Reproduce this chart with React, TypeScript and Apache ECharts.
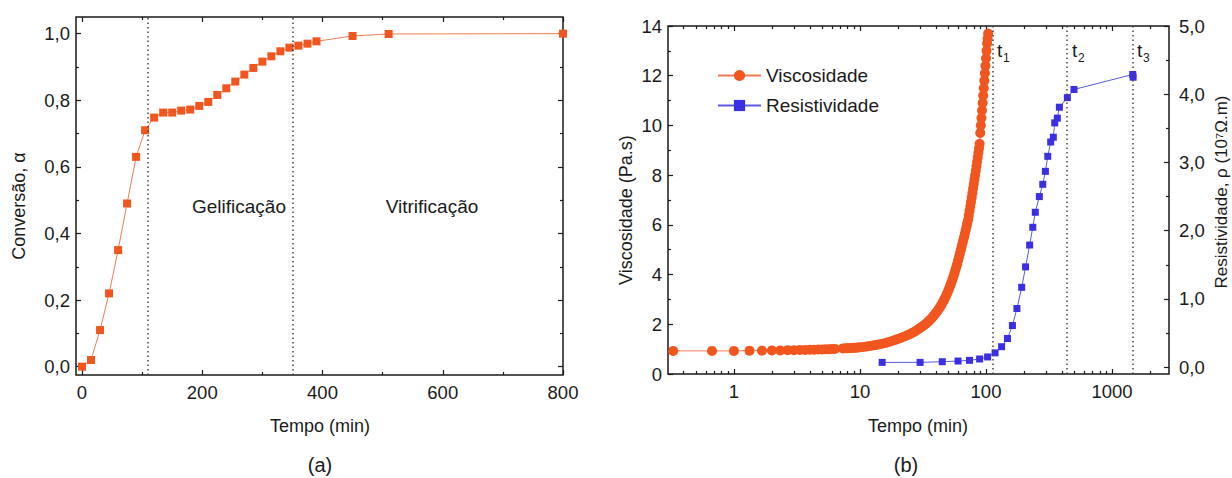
import React, { useEffect, useRef } from "react";
import * as echarts from "echarts";

// ---------- (a) Conversão ----------
const convTime = [0, 15, 30, 45, 60, 75, 90, 105, 120, 135, 150, 165, 180, 195, 210, 225, 240, 255, 270, 285, 300, 315, 330, 345, 360, 375, 390, 450, 510, 800];
const convValue = [0.0, 0.02, 0.11, 0.22, 0.35, 0.49, 0.63, 0.71, 0.748, 0.763, 0.763, 0.769, 0.772, 0.783, 0.795, 0.816, 0.836, 0.856, 0.877, 0.897, 0.916, 0.932, 0.947, 0.958, 0.964, 0.97, 0.977, 0.993, 0.999, 1.0];
const convMarks = [110, 350];
const convXMajor = [0, 200, 400, 600, 800];
const convXMinor = [100, 300, 500, 700];
const convYMajor = [0, 0.2, 0.4, 0.6, 0.8, 1.0];
const convYMinor = [0.1, 0.3, 0.5, 0.7, 0.9];

// ---------- (b) Viscosidade ----------
const visTime = [0.33, 0.67, 1, 1.33, 1.67, 2, 2.33, 2.67, 3, 3.33, 3.67, 4, 4.33, 4.67, 5, 5.33, 5.67, 6, 6.33,
  7.33, 7.67, 8, 8.33, 8.67, 9, 9.33, 9.67, 10, 10.67, 11.33, 12, 12.67, 13.33, 14, 15, 16, 17, 18, 19, 20,
  21, 22, 23, 24, 25, 26, 27, 28, 29, 30, 31, 32, 33, 34, 35, 36, 37, 38, 39, 40, 41, 42, 43, 44, 45, 46, 47, 48, 49, 50,
  51, 52, 53, 54, 55, 56, 57, 58, 59, 60, 61, 62, 63, 64, 65, 66, 67, 68, 69, 70, 71, 72, 73, 74, 75, 76, 77, 78, 79, 80,
  81, 82, 83, 84, 85, 86, 87, 88, 89, 90, 91, 92, 93, 94, 95, 96, 97, 98, 99, 100, 101, 102, 103, 104];
const visValue = [0.93, 0.93, 0.93, 0.94, 0.94, 0.95, 0.95, 0.96, 0.96, 0.97, 0.97, 0.98, 0.98, 0.99, 0.99, 1.0, 1.0, 1.01, 1.01,
  1.03, 1.04, 1.04, 1.05, 1.05, 1.06, 1.06, 1.07, 1.08, 1.09, 1.11, 1.13, 1.15, 1.17, 1.19, 1.22, 1.25, 1.29, 1.33, 1.37, 1.41,
  1.45, 1.49, 1.53, 1.57, 1.61, 1.66, 1.7, 1.75, 1.8, 1.85, 1.9, 1.95, 2.0, 2.06, 2.12, 2.18, 2.24, 2.31, 2.38, 2.45, 2.52, 2.6, 2.68, 2.76, 2.85, 2.94, 3.03, 3.13, 3.23, 3.33,
  3.44, 3.55, 3.66, 3.78, 3.9, 4.03, 4.16, 4.29, 4.42, 4.56, 4.7, 4.84, 4.98, 5.12, 5.25, 5.38, 5.51, 5.64, 5.78, 5.92, 6.06, 6.2, 6.38, 6.56, 6.74, 6.92, 7.1, 7.28, 7.46, 7.64,
  7.82, 8.0, 8.18, 8.36, 8.54, 8.72, 8.9, 9.08, 9.26, 9.7, 10.0, 10.3, 10.6, 10.9, 11.2, 11.5, 11.8, 12.1, 12.4, 12.7, 13.0, 13.3, 13.5, 13.7];

// ---------- (b) Resistividade ----------
const resTime = [15, 30, 45, 60, 74, 89, 103, 118, 133, 148, 162, 176, 192, 206, 222, 235, 246, 265, 282, 296, 309, 326, 342, 351, 368, 382, 442, 499, 1459, 1470];
const resValue = [0.07, 0.07, 0.08, 0.09, 0.1, 0.12, 0.15, 0.21, 0.3, 0.42, 0.61, 0.86, 1.17, 1.47, 1.79, 2.05, 2.27, 2.5, 2.68, 2.87, 3.09, 3.3, 3.37, 3.58, 3.65, 3.81, 3.95, 4.07, 4.29, 4.25];
const tMarks = [113, 440, 1470];
const tLabels = ["1", "2", "3"];

const logXMajor = [1, 10, 100, 1000];
const logXMinor = [0.4, 0.5, 0.6, 0.7, 0.8, 0.9, 2, 3, 4, 5, 6, 7, 8, 9, 20, 30, 40, 50, 60, 70, 80, 90, 200, 300, 400, 500, 600, 700, 800, 900, 2000];
const visYMajor = [0, 2, 4, 6, 8, 10, 12, 14];
const visYMinor = [1, 3, 5, 7, 9, 11, 13];
const resYMajor = [0, 1, 2, 3, 4, 5];
const resYMinor = [0.5, 1.5, 2.5, 3.5, 4.5];

const FONT = '"Liberation Sans", Arial, Helvetica, sans-serif';
const INK = "#1a1a1a";
const ORANGE = "#F2561F";
const ORANGE_LINE = "#EF7C55";
const BLUE = "#3B2FE3";
const BLUE_LINE = "#5A5AE0";
const FS_TICK = 18.5;
const FS_TITLE = 18;
const FS_IN = 19;

const comma = (v: number) => v.toFixed(1).replace(".", ",");

function axis(gridIndex: number, position: string, type: string, min: number, max: number, ticks: number[], len: number, label?: { fmt: (v: number) => string; margin: number }) {
  const a: any = {
    gridIndex,
    position,
    type,
    min,
    max,
    axisLine: { show: false, onZero: false },
    splitLine: { show: false },
    minorTick: { show: false },
    axisTick: { show: true, inside: true, length: len, customValues: ticks, lineStyle: { color: INK, width: 1.2 } },
    axisLabel: label
      ? { show: true, customValues: ticks, formatter: label.fmt, margin: label.margin, fontSize: FS_TICK, fontFamily: FONT, color: INK }
      : { show: false },
  };
  if (type === "log") a.logBase = 10;
  return a;
}

function txt(text: string, x: number, y: number, size = FS_TITLE, rotation = 0, align = "center") {
  return {
    type: "text",
    x,
    y,
    rotation,
    silent: true,
    style: { text, fontSize: size, fontFamily: FONT, fill: INK, align, verticalAlign: "middle" },
  };
}

export default function App() {
  const ref = useRef<HTMLDivElement>(null);
  useEffect(() => {
    document.body.style.margin = "0";
    const chart = echarts.init(ref.current!, null, { renderer: "svg" });
    const dotted = { type: [1.5, 3] as any, color: "#444", width: 1.5 };

    const graphic: any[] = [
      txt("Conversão, α", 19, 206, FS_TITLE, Math.PI / 2),
      txt("Tempo (min)", 320, 426),
      txt("(a)", 320, 465, 20),
      txt("Gelificação", 239, 206, FS_IN),
      txt("Vitrificação", 432, 206, FS_IN),
      txt("Viscosidade (Pa.s)", 626, 210, FS_TITLE, Math.PI / 2),
      txt("Tempo (min)", 918, 426),
      txt("(b)", 906, 465, 20),
      txt("Resistividade, ρ (10⁷Ω.m)", 1221, 192, 17, Math.PI / 2),
    ];
    const tX = [997, 1072, 1137];
    tLabels.forEach((s, i) => {
      graphic.push(txt("t", tX[i], 50, FS_IN, 0, "left"));
      graphic.push(txt(s, tX[i] + 6, 58, 12, 0, "left"));
    });

    const option: any = {
      animation: false,
      grid: [
        { left: 76, top: 17, width: 487, height: 358, show: true, borderColor: INK, borderWidth: 1.5, backgroundColor: "transparent" },
        { left: 668, top: 26, width: 501, height: 348, show: true, borderColor: INK, borderWidth: 1.5, backgroundColor: "transparent" },
      ],
      xAxis: [
        axis(0, "bottom", "value", -10, 800, convXMajor, 5, { fmt: (v) => String(v), margin: 8 }),
        axis(0, "bottom", "value", -10, 800, convXMinor, 3),
        axis(0, "top", "value", -10, 800, convXMajor, 5),
        axis(0, "top", "value", -10, 800, convXMinor, 3),
        axis(1, "bottom", "log", 0.3, 2830, logXMajor, 5, { fmt: (v) => String(Math.round(v)), margin: 8 }),
        axis(1, "bottom", "log", 0.3, 2830, logXMinor, 3),
        axis(1, "top", "log", 0.3, 2830, logXMajor, 5),
        axis(1, "top", "log", 0.3, 2830, logXMinor, 3),
      ],
      yAxis: [
        axis(0, "left", "value", -0.025, 1.05, convYMajor, 5, { fmt: comma, margin: 6 }),
        axis(0, "left", "value", -0.025, 1.05, convYMinor, 3),
        axis(0, "right", "value", -0.025, 1.05, convYMajor, 5),
        axis(0, "right", "value", -0.025, 1.05, convYMinor, 3),
        axis(1, "left", "value", 0, 14, visYMajor, 5, { fmt: (v) => String(v), margin: 6 }),
        axis(1, "left", "value", 0, 14, visYMinor, 3),
        axis(1, "right", "value", -0.1, 5.0, resYMajor, 5, { fmt: comma, margin: 10 }),
        axis(1, "right", "value", -0.1, 5.0, resYMinor, 3),
      ],
      legend: {
        data: ["Viscosidade", "Resistividade"],
        orient: "vertical",
        left: 717,
        top: 66,
        padding: 0,
        itemGap: 11,
        itemWidth: 43,
        itemHeight: 14,
        textStyle: { fontSize: FS_IN, fontFamily: FONT, color: INK },
      },
      series: [
        {
          name: "Conversão",
          type: "line",
          xAxisIndex: 0,
          yAxisIndex: 0,
          data: convTime.map((t, i) => [t, convValue[i]]),
          symbol: "rect",
          symbolSize: 8,
          itemStyle: { color: ORANGE },
          lineStyle: { color: ORANGE_LINE, width: 1 },
          markLine: {
            silent: true,
            symbol: "none",
            label: { show: false },
            lineStyle: dotted,
            data: convMarks.map((x) => ({ xAxis: x })),
          },
        },
        {
          name: "Viscosidade",
          type: "line",
          xAxisIndex: 4,
          yAxisIndex: 4,
          data: visTime.map((t, i) => [t, visValue[i]]),
          symbol: "circle",
          symbolSize: 10,
          itemStyle: { color: ORANGE },
          lineStyle: { color: ORANGE_LINE, width: 1 },
          z: 3,
          markLine: {
            silent: true,
            symbol: "none",
            label: { show: false },
            lineStyle: dotted,
            data: tMarks.map((x) => ({ xAxis: x })),
          },
        },
        {
          name: "Resistividade",
          type: "line",
          xAxisIndex: 4,
          yAxisIndex: 6,
          data: resTime.map((t, i) => [t, resValue[i]]),
          symbol: "rect",
          symbolSize: 7,
          itemStyle: { color: BLUE },
          lineStyle: { color: BLUE_LINE, width: 1 },
          z: 4,
        },
      ],
      graphic,
    };
    chart.setOption(option);
    return () => chart.dispose();
  }, []);
  return <div ref={ref} style={{ width: 1232, height: 478 }} />;
}
